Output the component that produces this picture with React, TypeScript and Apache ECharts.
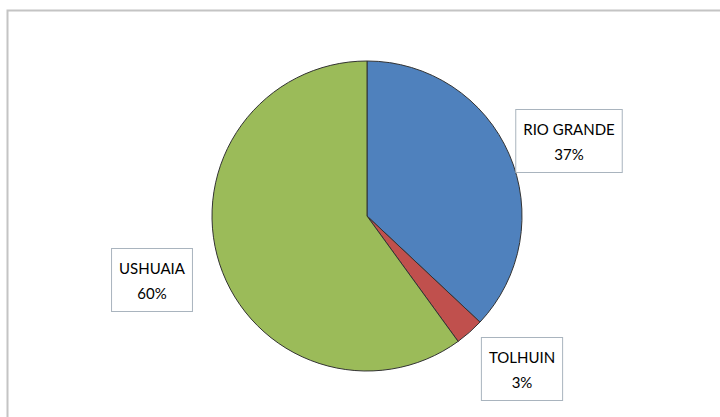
import React, { useEffect, useRef } from "react";
import * as echarts from "echarts";

const categories = ["RIO GRANDE", "TOLHUIN", "USHUAIA"];
const values = [37, 3, 60];
const colors = ["#4F81BD", "#C0504D", "#9BBB59"];
const labelCenters = [
  [569, 141],
  [522, 369],
  [152, 280],
];

export default function App() {
  const ref = useRef<HTMLDivElement>(null);
  useEffect(() => {
    const chart = echarts.init(ref.current!, null, { renderer: "svg" });
    chart.setOption({
      animation: false,
      backgroundColor: "#ffffff",
      graphic: [
        {
          type: "rect",
          shape: { x: 7.5, y: 10.5, width: 800, height: 500 },
          style: { fill: "none", stroke: "#c4c4c4", lineWidth: 2 },
          z: 0,
        },
      ],
      series: [
        {
          type: "pie",
          center: [367, 216],
          radius: 155,
          startAngle: 90,
          clockwise: true,
          data: categories.map((c, i) => ({
            name: c,
            value: values[i],
            itemStyle: { color: colors[i] },
          })),
          itemStyle: { borderColor: "#333333", borderWidth: 1 },
          label: {
            show: true,
            position: "outside",
            formatter: "{b}\n{d}%",
            fontFamily: "Lato",
            fontSize: 15,
            color: "#000000",
            lineHeight: 25,
            align: "center",
            backgroundColor: "#ffffff",
            borderColor: "#a9b4be",
            borderWidth: 1,
            padding: [6, 7, 6, 7],
          },
          labelLine: { show: false },
          labelLayout: (params: any) => {
            const p = labelCenters[params.dataIndex];
            return { x: p[0], y: p[1], align: "center", verticalAlign: "middle" };
          },
          emphasis: { disabled: true },
        },
      ],
    });
    return () => chart.dispose();
  }, []);
  return (
    <div
      ref={ref}
      style={{ position: "fixed", left: 0, top: 0, width: 720, height: 417 }}
    />
  );
}
